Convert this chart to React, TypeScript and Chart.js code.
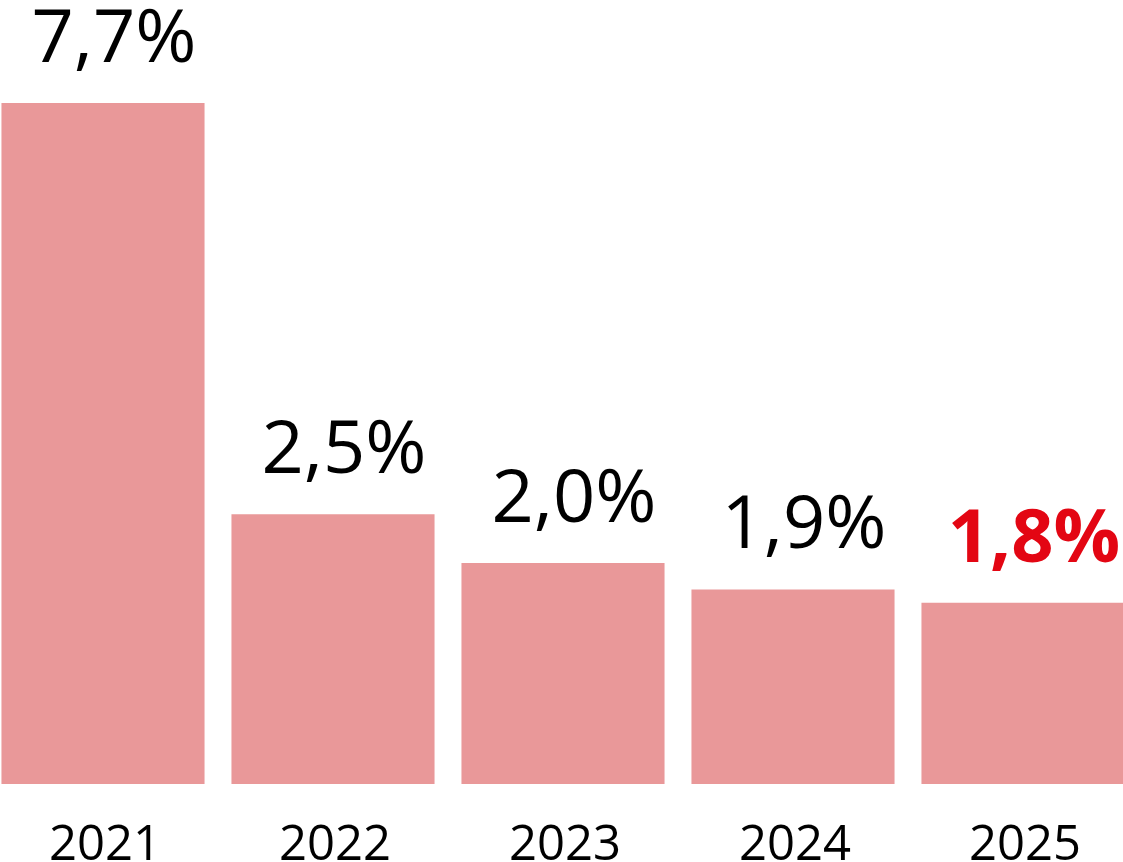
import React, { useEffect, useRef } from "react";
import { Chart, registerables } from "chart.js";

Chart.register(...registerables);

// Data
const years: string[] = ["2021", "2022", "2023", "2024", "2025"];
const valueLabels: string[] = ["7,7%", "2,5%", "2,0%", "1,9%", "1,8%"];
// Bar lengths as drawn in the picture (in % units of the 7,7% bar scale)
const barValues: number[] = [7.7, 3.05, 2.5, 2.2, 2.05];
const highlightIndex = 4;

const BAR_COLOR = "#E99899";
const TEXT_COLOR = "#000000";
const HIGHLIGHT_COLOR = "#E30613";
const FONT = "'Open Sans', 'Noto Sans', sans-serif";

const labelsPlugin = {
  id: "barLabels",
  afterDatasetsDraw(chart: any) {
    const { ctx } = chart;
    const meta = chart.getDatasetMeta(0);
    const xScale = chart.scales.x;
    const bottom = chart.chartArea.bottom;
    ctx.save();
    ctx.textAlign = "center";
    ctx.textBaseline = "alphabetic";
    meta.data.forEach((bar: any, i: number) => {
      const hi = i === highlightIndex;
      ctx.font = `${hi ? "bold" : "normal"} 74px ${FONT}`;
      ctx.fillStyle = hi ? HIGHLIGHT_COLOR : TEXT_COLOR;
      ctx.fillText(valueLabels[i], bar.x + 11, bar.y - 41);
    });
    ctx.font = `normal 49px ${FONT}`;
    ctx.fillStyle = TEXT_COLOR;
    years.forEach((y, i) => {
      const x = xScale.getPixelForValue(i);
      ctx.fillText(y, x + 2, bottom + 76);
    });
    ctx.restore();
  },
};

export default function App() {
  const canvasRef = useRef<HTMLCanvasElement | null>(null);

  useEffect(() => {
    document.body.style.margin = "0";
    document.body.style.overflow = "hidden";
    const canvas = canvasRef.current;
    if (!canvas) return;
    const chart = new Chart(canvas, {
      type: "bar",
      data: {
        labels: years,
        datasets: [
          {
            data: barValues,
            backgroundColor: BAR_COLOR,
            borderWidth: 0,
            barPercentage: 0.883,
            categoryPercentage: 1,
          },
        ],
      },
      options: {
        responsive: false,
        animation: false,
        maintainAspectRatio: false,
        layout: { padding: { top: 103, bottom: 78, left: 0, right: 0 } },
        plugins: {
          legend: { display: false },
          tooltip: { enabled: false },
        },
        scales: {
          x: { display: false },
          y: { display: false, min: 0, max: 7.7 },
        },
      },
      plugins: [labelsPlugin],
    });
    return () => chart.destroy();
  }, []);

  return (
    <div
      style={{
        position: "relative",
        width: 1123,
        height: 862,
        overflow: "hidden",
        background: "#ffffff",
      }}
    >
      <canvas
        ref={canvasRef}
        width={1150}
        height={862}
        style={{ position: "absolute", left: -12, top: 0, width: 1150, height: 862 }}
      />
    </div>
  );
}
